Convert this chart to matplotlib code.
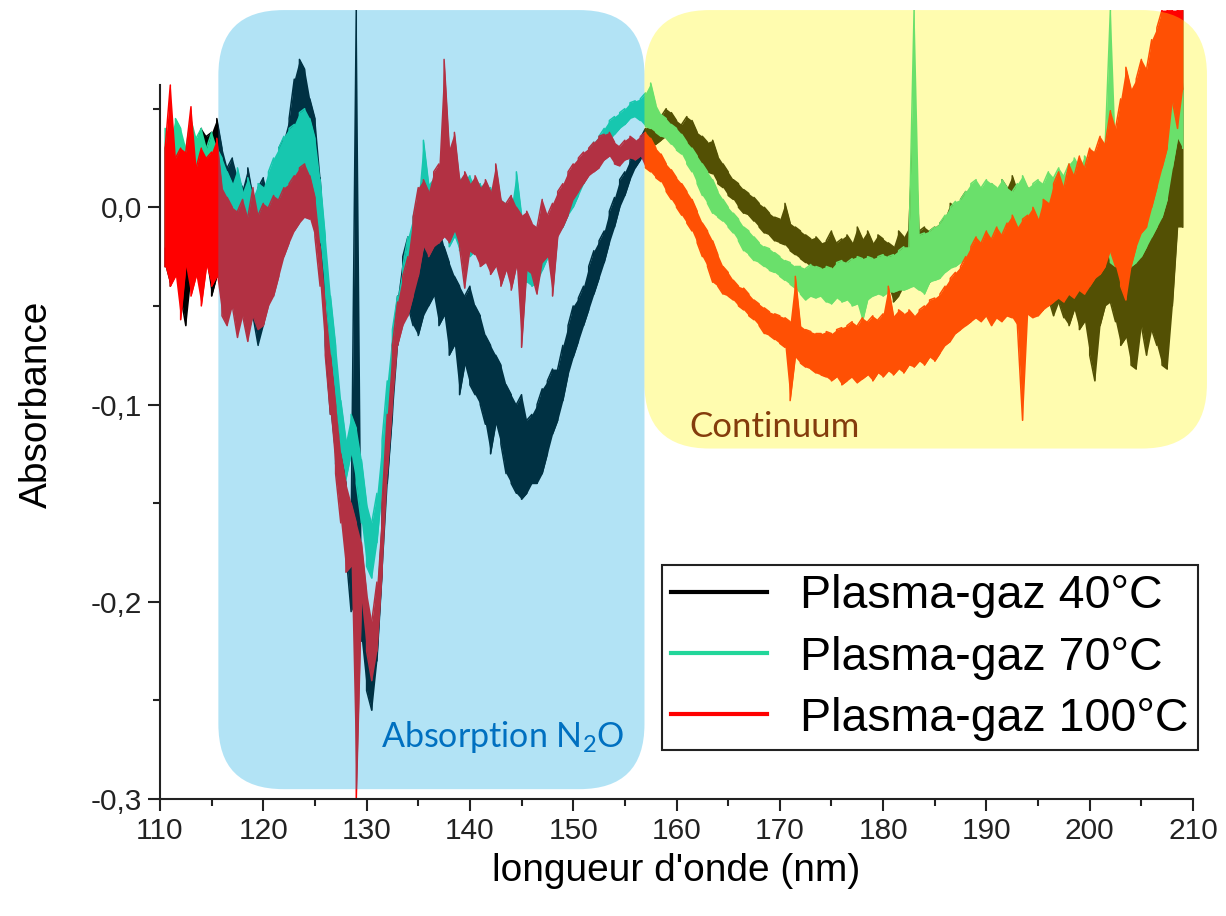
import numpy as np
import matplotlib.pyplot as plt
from matplotlib.patches import FancyBboxPatch
from matplotlib.ticker import MultipleLocator, FuncFormatter

plt.rcParams['font.family'] = ['Liberation Sans', 'DejaVu Sans']
plt.rcParams['mathtext.fontset'] = 'custom'
plt.rcParams['mathtext.rm'] = 'Lato'

# spectra sampled every 0.5 nm from 110.5 to 209 nm; noise envelope (low / high) per sample
wavelength = np.arange(110.5, 209.01, 0.5)

k40_lo = [-0.030, -0.040, -0.025, -0.045, -0.060, -0.035, -0.030, -0.040, -0.028, -0.045,
          -0.035, -0.040, -0.055, -0.045, -0.060, -0.050, -0.065, -0.055, -0.070, -0.060,
          -0.045, -0.040, -0.025, -0.010, 0.005, 0.020, 0.030, 0.025, 0.015, 0.000,
          -0.025, -0.070, -0.105, -0.130, -0.150, -0.175, -0.205, -0.200, -0.220, -0.245,
          -0.255, -0.230, -0.185, -0.140, -0.105, -0.070, -0.055, -0.050, -0.060, -0.065,
          -0.055, -0.050, -0.045, -0.060, -0.055, -0.075, -0.070, -0.095, -0.080, -0.090,
          -0.095, -0.100, -0.110, -0.125, -0.110, -0.120, -0.135, -0.140, -0.145, -0.148,
          -0.145, -0.140, -0.140, -0.135, -0.125, -0.115, -0.108, -0.098, -0.085, -0.076,
          -0.068, -0.060, -0.052, -0.044, -0.036, -0.028, -0.018, -0.010, 0.000, 0.006,
          0.014, 0.020, 0.024, 0.028, 0.030, 0.032, 0.034, 0.036, 0.034, 0.030,
          0.030, 0.028, 0.028, 0.022, 0.019, 0.018, 0.017, 0.012, 0.010, 0.006,
          0.004, 0.000, -0.003, -0.004, -0.007, -0.010, -0.013, -0.014, -0.017, -0.018,
          -0.019, -0.022, -0.024, -0.026, -0.028, -0.030, -0.031, -0.032, -0.032, -0.030,
          -0.033, -0.032, -0.034, -0.032, -0.034, -0.033, -0.035, -0.033, -0.036, -0.034,
          -0.040, -0.048, -0.045, -0.040, -0.035, -0.038, -0.040, -0.042, -0.038, -0.035,
          -0.034, -0.030, -0.028, -0.025, -0.023, -0.028, -0.030, -0.028, -0.032, -0.030,
          -0.026, -0.034, -0.030, -0.036, -0.039, -0.040, -0.044, -0.038, -0.045, -0.050,
          -0.052, -0.046, -0.055, -0.048, -0.056, -0.060, -0.052, -0.062, -0.058, -0.075,
          -0.088, -0.060, -0.050, -0.048, -0.058, -0.070, -0.066, -0.080, -0.082, -0.060,
          -0.075, -0.062, -0.070, -0.080, -0.082, -0.050, -0.010, -0.010]
k40_hi = [0.030, 0.040, 0.035, 0.030, 0.025, 0.042, 0.030, 0.040, 0.036, 0.038,
          0.045, 0.030, 0.020, 0.025, 0.015, 0.010, 0.020, 0.005, 0.010, 0.015,
          0.005, 0.020, 0.030, 0.035, 0.045, 0.065, 0.075, 0.070, 0.055, 0.045,
          0.015, -0.030, -0.065, -0.095, -0.120, -0.140, -0.165, 0.100, -0.195, -0.215,
          -0.225, -0.195, -0.150, -0.105, -0.070, -0.045, -0.025, -0.015, -0.010, -0.015,
          -0.005, -0.008, -0.003, -0.010, -0.020, -0.028, -0.035, -0.040, -0.045, -0.040,
          -0.050, -0.055, -0.065, -0.070, -0.075, -0.080, -0.090, -0.095, -0.100, -0.095,
          -0.108, -0.105, -0.100, -0.092, -0.088, -0.082, -0.082, -0.070, -0.060, -0.050,
          -0.046, -0.040, -0.030, -0.022, -0.017, -0.012, -0.002, 0.005, 0.014, 0.018,
          0.024, 0.030, 0.035, 0.040, 0.045, 0.042, 0.046, 0.050, 0.048, 0.044,
          0.042, 0.046, 0.044, 0.038, 0.036, 0.033, 0.034, 0.026, 0.022, 0.018,
          0.014, 0.012, 0.009, 0.007, 0.005, 0.002, 0.000, -0.003, -0.005, -0.006,
          0.002, -0.008, -0.010, -0.012, -0.014, -0.016, -0.015, -0.018, -0.017, -0.012,
          -0.018, -0.016, -0.014, -0.018, -0.010, -0.016, -0.012, -0.018, -0.014, -0.016,
          -0.018, -0.020, -0.012, -0.015, -0.010, 0.050, -0.012, -0.010, -0.012, -0.010,
          -0.008, -0.005, 0.002, 0.000, 0.004, 0.008, 0.002, 0.006, 0.004, 0.008,
          0.012, 0.006, 0.014, 0.010, 0.016, 0.008, 0.012, 0.010, 0.006, 0.004,
          0.010, 0.006, 0.012, 0.004, 0.008, 0.002, 0.010, 0.004, 0.006, 0.002,
          0.008, 0.000, 0.006, 0.004, -0.002, 0.006, 0.000, 0.004, 0.002, 0.010,
          0.008, 0.020, 0.030, 0.040, 0.050, 0.095, 0.100, 0.060]

g70_lo = [-0.020, -0.030, -0.015, -0.030, -0.025, -0.035, -0.020, -0.030, -0.025, -0.035,
          -0.025, -0.030, -0.025, -0.030, -0.028, -0.035, -0.030, -0.038, -0.032, -0.035,
          -0.030, -0.020, -0.012, -0.005, 0.002, 0.008, 0.012, 0.014, 0.010, 0.000,
          -0.018, -0.045, -0.075, -0.100, -0.125, -0.138, -0.125, -0.140, -0.160, -0.182,
          -0.188, -0.170, -0.142, -0.112, -0.085, -0.065, -0.055, -0.040, -0.035, -0.030,
          -0.020, -0.015, -0.012, -0.018, -0.010, -0.020, -0.015, -0.022, -0.018, -0.025,
          -0.022, -0.028, -0.025, -0.030, -0.026, -0.032, -0.028, -0.033, -0.030, -0.036,
          -0.038, -0.040, -0.038, -0.032, -0.026, -0.020, -0.014, -0.010, -0.004, 0.000,
          0.006, 0.012, 0.017, 0.022, 0.026, 0.030, 0.034, 0.037, 0.040, 0.042,
          0.045, 0.046, 0.044, 0.041, 0.040, 0.038, 0.036, 0.035, 0.032, 0.029,
          0.027, 0.022, 0.018, 0.012, 0.006, 0.002, -0.003, -0.005, -0.007, -0.010,
          -0.013, -0.017, -0.022, -0.024, -0.027, -0.028, -0.030, -0.032, -0.033, -0.035,
          -0.037, -0.039, -0.041, -0.044, -0.047, -0.045, -0.046, -0.045, -0.048, -0.049,
          -0.046, -0.048, -0.047, -0.050, -0.049, -0.058, -0.047, -0.045, -0.044, -0.045,
          -0.043, -0.043, -0.042, -0.042, -0.041, -0.040, -0.042, -0.044, -0.038, -0.037,
          -0.036, -0.033, -0.031, -0.030, -0.028, -0.027, -0.028, -0.026, -0.025, -0.026,
          -0.024, -0.025, -0.024, -0.025, -0.023, -0.022, -0.020, -0.022, -0.020, -0.018,
          -0.020, -0.016, -0.020, -0.016, -0.018, -0.015, -0.020, -0.018, -0.022, -0.025,
          -0.024, -0.026, -0.020, -0.028, -0.030, -0.032, -0.035, -0.030, -0.028, -0.025,
          -0.020, -0.015, -0.010, -0.005, 0.004, 0.020, 0.035, 0.030]
g70_hi = [0.040, 0.035, 0.045, 0.040, 0.030, 0.045, 0.035, 0.040, 0.030, 0.038,
          0.030, 0.025, 0.018, 0.012, 0.020, 0.008, 0.015, 0.005, 0.012, 0.010,
          0.018, 0.025, 0.030, 0.036, 0.040, 0.042, 0.048, 0.050, 0.045, 0.035,
          0.014, -0.015, -0.045, -0.070, -0.098, -0.118, -0.105, -0.112, -0.128, -0.150,
          -0.160, -0.145, -0.118, -0.088, -0.062, -0.045, -0.030, -0.015, -0.005, 0.005,
          0.034, 0.012, 0.015, 0.020, 0.043, 0.018, 0.020, 0.015, 0.012, 0.016,
          0.010, 0.012, 0.008, 0.010, 0.006, 0.004, 0.002, 0.000, 0.018, -0.004,
          -0.008, -0.010, -0.012, -0.012, -0.008, -0.004, 0.000, 0.004, 0.010, 0.014,
          0.019, 0.025, 0.029, 0.033, 0.036, 0.040, 0.044, 0.046, 0.048, 0.050,
          0.053, 0.054, 0.055, 0.058, 0.063, 0.052, 0.047, 0.045, 0.042, 0.040,
          0.037, 0.033, 0.030, 0.026, 0.022, 0.018, 0.014, 0.008, 0.004, 0.000,
          -0.003, -0.006, -0.010, -0.012, -0.015, -0.018, -0.020, -0.021, -0.023, -0.025,
          -0.027, -0.028, -0.030, -0.030, -0.031, -0.029, -0.030, -0.031, -0.030, -0.031,
          -0.028, -0.027, -0.028, -0.026, -0.025, -0.026, -0.025, -0.026, -0.025, -0.024,
          -0.025, -0.024, -0.022, -0.020, -0.020, 0.100, -0.014, -0.013, -0.012, -0.010,
          -0.008, -0.004, 0.000, 0.003, 0.004, 0.008, 0.012, 0.014, 0.010, 0.014,
          0.012, 0.010, 0.014, 0.010, 0.008, 0.012, 0.016, 0.010, 0.012, 0.014,
          0.012, 0.018, 0.015, 0.020, 0.016, 0.022, 0.025, 0.020, 0.026, 0.022,
          0.028, 0.030, 0.032, 0.100, 0.028, 0.030, 0.036, 0.034, 0.040, 0.045,
          0.050, 0.055, 0.050, 0.060, 0.068, 0.080, 0.095, 0.100]

r100_lo = [-0.030, -0.040, -0.035, -0.057, -0.030, -0.045, -0.035, -0.050, -0.030, -0.040,
           -0.035, -0.055, -0.060, -0.050, -0.066, -0.055, -0.068, -0.055, -0.062, -0.060,
           -0.050, -0.045, -0.035, -0.025, -0.018, -0.012, -0.008, -0.005, -0.006, -0.015,
           -0.040, -0.075, -0.105, -0.135, -0.160, -0.185, -0.182, -0.300, -0.200, -0.225,
           -0.240, -0.225, -0.185, -0.135, -0.100, -0.070, -0.060, -0.055, -0.045, -0.035,
           -0.020, -0.025, -0.020, -0.018, -0.015, -0.018, -0.012, -0.020, -0.041, -0.022,
           -0.024, -0.030, -0.028, -0.034, -0.030, -0.040, -0.032, -0.042, -0.030, -0.071,
           -0.032, -0.034, -0.044, -0.028, -0.025, -0.045, -0.015, -0.010, -0.004, 0.004,
           0.008, 0.012, 0.016, 0.018, 0.020, 0.024, 0.026, 0.022, 0.021, 0.024,
           0.025, 0.024, 0.026, 0.020, 0.018, 0.015, 0.013, 0.008, 0.004, 0.000,
           -0.004, -0.008, -0.012, -0.018, -0.025, -0.030, -0.038, -0.040, -0.044, -0.045,
           -0.047, -0.050, -0.052, -0.055, -0.057, -0.060, -0.064, -0.065, -0.067, -0.069,
           -0.071, -0.098, -0.076, -0.079, -0.081, -0.082, -0.084, -0.085, -0.086, -0.088,
           -0.086, -0.090, -0.088, -0.086, -0.089, -0.087, -0.085, -0.088, -0.084, -0.086,
           -0.083, -0.085, -0.082, -0.084, -0.080, -0.081, -0.078, -0.080, -0.076, -0.078,
           -0.074, -0.070, -0.068, -0.064, -0.062, -0.060, -0.058, -0.056, -0.058, -0.055,
           -0.060, -0.056, -0.058, -0.055, -0.056, -0.060, -0.108, -0.054, -0.056, -0.055,
           -0.052, -0.050, -0.048, -0.046, -0.048, -0.044, -0.046, -0.042, -0.044, -0.040,
           -0.036, -0.034, -0.030, -0.022, -0.030, -0.040, -0.047, -0.030, -0.020, -0.013,
           -0.010, 0.000, 0.010, 0.020, 0.030, 0.054, 0.040, 0.060]
r100_hi = [0.030, 0.062, 0.025, 0.030, 0.028, 0.051, 0.020, 0.030, 0.025, 0.028,
           0.035, 0.010, 0.005, 0.000, -0.002, 0.004, -0.005, 0.010, -0.004, 0.002,
           0.000, 0.006, 0.004, 0.010, 0.012, 0.016, 0.020, 0.022, 0.016, 0.005,
           -0.020, -0.050, -0.075, -0.100, -0.125, -0.140, -0.150, -0.160, -0.170, -0.195,
           -0.210, -0.190, -0.150, -0.105, -0.070, -0.048, -0.035, -0.025, -0.005, 0.010,
           0.014, 0.008, 0.018, 0.022, 0.075, 0.030, 0.038, 0.014, 0.018, 0.012,
           0.016, 0.010, 0.014, 0.008, 0.022, 0.004, 0.002, 0.006, 0.000, -0.004,
           -0.002, -0.008, -0.010, 0.004, -0.004, 0.002, 0.008, 0.012, 0.018, 0.022,
           0.025, 0.028, 0.030, 0.033, 0.036, 0.037, 0.038, 0.033, 0.031, 0.034,
           0.036, 0.034, 0.036, 0.038, 0.035, 0.030, 0.027, 0.022, 0.019, 0.015,
           0.012, 0.008, 0.004, -0.002, -0.008, -0.012, -0.017, -0.024, -0.030, -0.033,
           -0.037, -0.040, -0.041, -0.044, -0.047, -0.049, -0.051, -0.053, -0.054, -0.055,
           -0.056, -0.058, -0.035, -0.060, -0.062, -0.063, -0.064, -0.064, -0.063, -0.064,
           -0.062, -0.061, -0.060, -0.058, -0.060, -0.056, -0.058, -0.055, -0.057, -0.054,
           -0.040, -0.055, -0.052, -0.054, -0.052, -0.055, -0.052, -0.050, -0.047, -0.046,
           -0.044, -0.040, -0.036, -0.033, -0.030, -0.025, -0.020, -0.015, -0.018, -0.012,
           -0.016, -0.010, -0.014, -0.008, -0.004, -0.010, -0.006, -0.004, 0.000, -0.006,
           0.004, 0.002, 0.012, 0.018, 0.010, 0.022, 0.016, 0.026, 0.020, 0.030,
           0.028, 0.036, 0.032, 0.049, 0.040, 0.055, 0.071, 0.060, 0.065, 0.075,
           0.070, 0.085, 0.091, 0.100, 0.100, 0.100, 0.100, 0.100]

series = [
    ('Plasma-gaz 40°C', k40_lo, k40_hi, '#000000'),
    ('Plasma-gaz 70°C', g70_lo, g70_hi, '#22d69a'),
    ('Plasma-gaz 100°C', r100_lo, r100_hi, '#ff0000'),
]


def noisy_trace(x, lo, hi):
    # alternate low/high at each sample so the noise band is drawn as vertical strokes
    xs, ys = [], []
    for i, (xi, a, b) in enumerate(zip(x, lo, hi)):
        xs += [xi, xi]
        ys += [a, b] if i % 2 == 0 else [b, a]
    return xs, ys


fig = plt.figure(figsize=(12.26, 9.16), dpi=100)
ax = fig.add_axes([0.1305, 0.1277, 0.8426, 0.8613])

for i, (name, lo, hi, col) in enumerate(series):
    z = 2 + 0.1 * i
    ax.fill_between(wavelength, lo, hi, color=col, lw=0, zorder=z)
    xs, ys = noisy_trace(wavelength, lo, hi)
    ax.plot(xs, ys, color=col, lw=1.1, zorder=z, label=name)

ax.set_xlim(110, 210)
ax.set_ylim(-0.3, 0.1)

# translucent highlight regions drawn over the spectra
w_px = ax.get_position().width * fig.get_figwidth() * fig.dpi
h_px = ax.get_position().height * fig.get_figheight() * fig.dpi
aspect = (0.4 / h_px) / (100 / w_px)
regions = [
    ((115.65, -0.295), 41.25, 0.395, '#00a5e1', 0.30),
    ((156.9, -0.1223), 54.45, 0.2223, '#fff60d', 0.33),
]
for (x0, y0), w, h, col, a in regions:
    ax.add_patch(FancyBboxPatch((x0, y0), w, h, boxstyle='round,pad=0,rounding_size=6.3',
                                mutation_aspect=aspect, fc=col, ec='none', alpha=a,
                                zorder=3, clip_on=False))

ax.text(143.2, -0.2685, r'Absorption N$_2$O', color='#0070c0', fontsize=24.5,
        family='Lato', ha='center', va='center', zorder=4)
ax.text(169.5, -0.1115, 'Continuum', color='#843c0c', fontsize=25,
        family='Lato', ha='center', va='center', zorder=4)

for s in ['top', 'right']:
    ax.spines[s].set_visible(False)
ax.spines['left'].set_bounds(-0.3, 0.062)
for s in ['left', 'bottom']:
    ax.spines[s].set_linewidth(1.5)
    ax.spines[s].set_color('#222222')

ax.xaxis.set_major_locator(MultipleLocator(10))
ax.xaxis.set_minor_locator(MultipleLocator(5))
ax.set_yticks([-0.3, -0.2, -0.1, 0.0])
ax.set_yticks([-0.25, -0.15, -0.05, 0.05], minor=True)
ax.yaxis.set_major_formatter(FuncFormatter(lambda v, _: f'{v:.1f}'.replace('.', ',')))
ax.tick_params(which='major', length=8.6, width=1.5, labelsize=21.5, pad=4, colors='#222222')
ax.tick_params(which='minor', length=5, width=1.5, colors='#222222')

ax.set_xlabel("longueur d'onde (nm)", fontsize=28, labelpad=6)
ax.set_ylabel('Absorbance', fontsize=28, labelpad=26)

leg = ax.legend(loc='upper left', bbox_to_anchor=(0.486, 0.2966), borderaxespad=0,
                fontsize=33.5, frameon=True, fancybox=False, framealpha=1,
                edgecolor='#222222', handlelength=2.05, handletextpad=0.72,
                labelspacing=0.37, borderpad=0.2)
leg.get_frame().set_linewidth(1.5)
leg.set_zorder(6)
for line in leg.get_lines():
    line.set_linewidth(3)

fig.savefig('out.png', dpi=100)
